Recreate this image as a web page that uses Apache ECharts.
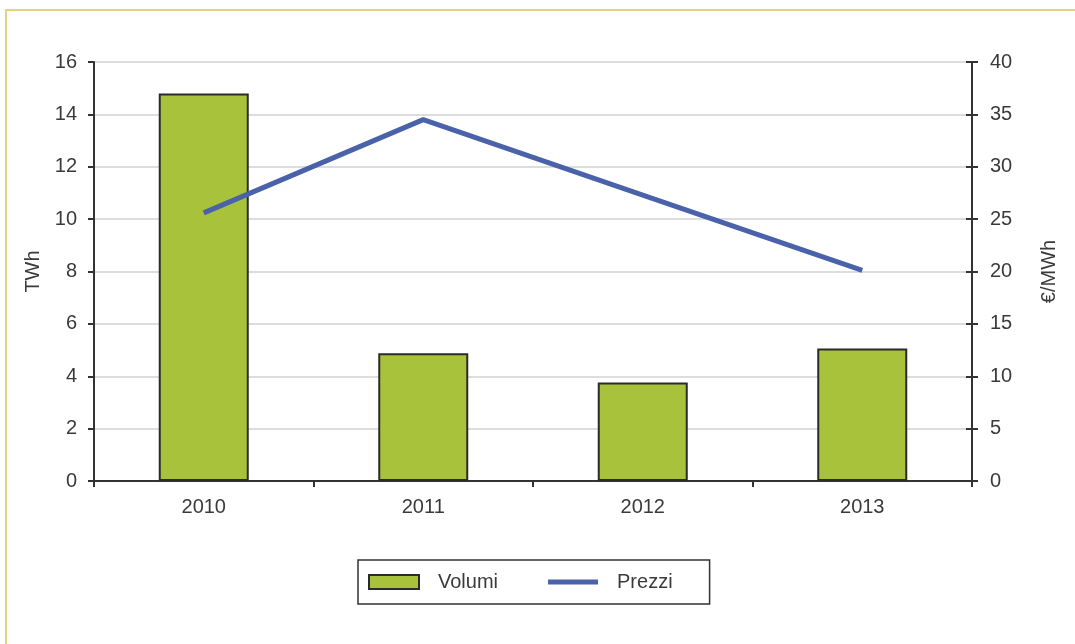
<!DOCTYPE html>
<html><head><meta charset="utf-8">
<script src="https://cdn.jsdelivr.net/npm/echarts@6/dist/echarts.min.js"></script>
<style>
html,body{margin:0;padding:0;background:#fff;overflow:hidden}
#frame{position:absolute;left:5px;top:9px;width:1200px;height:800px;border:2px solid #e2d37e;box-sizing:border-box}
#c{position:absolute;left:0;top:0;width:1075px;height:644px}
</style></head>
<body>
<div id="frame"></div>
<div id="c"></div>
<script>
const years = ['2010', '2011', '2012', '2013'];
const volumi = [14.8, 4.88, 3.76, 5.06];
const prezzi = [25.6, 34.5, 27.3, 20.1];
const leftTicks = {min: 0, max: 16, interval: 2};
const rightTicks = {min: 0, max: 40, interval: 5};

const chart = echarts.init(document.getElementById('c'), null, {renderer: 'canvas'});
const font = 'Liberation Sans, Arial, sans-serif';
const axisCol = '#333';
const txtCol = '#3a3a3a';
chart.setOption({
  backgroundColor: 'transparent',
  animation: false,
  textStyle: {fontFamily: font},
  grid: {left: 94, right: 103, top: 62, bottom: 163, containLabel: false},
  legend: {
    data: [
      {name: 'Volumi', icon: 'rect'},
      {name: 'Prezzi', icon: 'path://M0,0L52,0L52,5L0,5Z'}
    ],
    left: 358, top: 560,
    padding: [12, 37, 12, 10],
    borderColor: '#333', borderWidth: 1.5,
    itemWidth: 50, itemHeight: 14, itemGap: 50,
    textStyle: {fontSize: 20, color: txtCol, fontFamily: font, padding: [0, 0, 0, 14]}
  },
  xAxis: {
    type: 'category', data: years,
    axisLine: {lineStyle: {color: axisCol, width: 2}},
    axisTick: {show: true, length: 6, lineStyle: {color: axisCol, width: 2}},
    axisLabel: {fontSize: 20, color: txtCol, margin: 16, fontFamily: font},
    splitLine: {show: false}
  },
  yAxis: [
    {
      type: 'value', position: 'left', min: leftTicks.min, max: leftTicks.max, interval: leftTicks.interval,
      name: 'TWh', nameLocation: 'middle', nameGap: 43, nameRotate: 90,
      nameTextStyle: {fontSize: 20, color: txtCol, fontFamily: font},
      axisLine: {show: true, lineStyle: {color: axisCol, width: 2}},
      axisTick: {show: true, length: 6, lineStyle: {color: axisCol, width: 2}},
      axisLabel: {fontSize: 20, color: txtCol, margin: 17, fontFamily: font},
      splitLine: {show: true, lineStyle: {color: '#d2d2d2', width: 1.5}}
    },
    {
      type: 'value', position: 'right', min: rightTicks.min, max: rightTicks.max, interval: rightTicks.interval,
      name: '€/MWh', nameLocation: 'middle', nameGap: 67, nameRotate: 90,
      nameTextStyle: {fontSize: 20, color: txtCol, fontFamily: font},
      axisLine: {show: true, lineStyle: {color: axisCol, width: 2}},
      axisTick: {show: true, length: 6, lineStyle: {color: axisCol, width: 2}},
      axisLabel: {fontSize: 20, color: txtCol, margin: 18, fontFamily: font},
      splitLine: {show: false}
    },
    {
      type: 'value', position: 'right', min: rightTicks.min, max: rightTicks.max, interval: rightTicks.interval,
      axisLine: {show: false},
      axisTick: {show: true, inside: true, length: 6, lineStyle: {color: axisCol, width: 2}},
      axisLabel: {show: false},
      splitLine: {show: false}
    }
  ],
  series: [
    {
      name: 'Volumi', type: 'bar', yAxisIndex: 0, data: volumi, barWidth: 90,
      itemStyle: {color: '#a8c23b', borderColor: '#2b2b2b', borderWidth: 2}
    },
    {
      name: 'Prezzi', type: 'line', yAxisIndex: 1, data: prezzi,
      symbol: 'none', showSymbol: false,
      lineStyle: {color: '#4a62aa', width: 5},
      itemStyle: {color: '#4a62aa'}
    }
  ]
});
</script>
</body></html>
